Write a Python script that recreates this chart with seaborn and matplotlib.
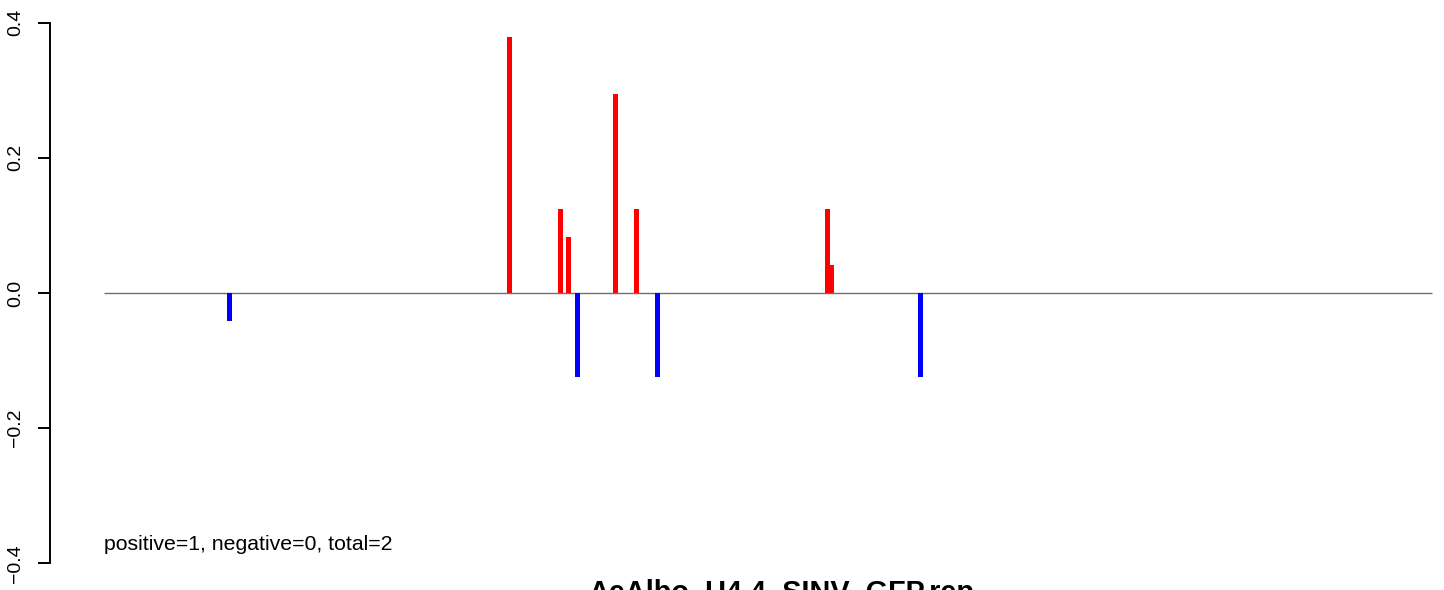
import matplotlib
matplotlib.use("Agg")
import matplotlib.pyplot as plt
import seaborn as sns
import pandas as pd

# ---- data ----
positions = [29.9, 96.4, 108.6, 110.5, 112.6, 121.7, 126.7, 131.7, 172.1, 173.1, 194.2]
values    = [-0.042, 0.378, 0.125, 0.083, -0.125, 0.294, 0.125, -0.125, 0.125, 0.042, -0.125]
strand    = ["neg", "pos", "pos", "pos", "neg", "pos", "pos", "neg", "pos", "pos", "neg"]
seq_start = 0
seq_end = 316
y_ticks = [-0.4, -0.2, 0.0, 0.2, 0.4]
summary_text = "positive=1, negative=0, total=2"
title_text = "AeAlbo_U4.4_SINV_GFP.rep"

sns.set_style("white")
plt.rcParams["font.family"] = ["Liberation Sans", "DejaVu Sans"]
plt.rcParams["text.color"] = "black"
plt.rcParams["ytick.color"] = "black"
plt.rcParams["ytick.labelcolor"] = "black"
plt.rcParams["axes.labelcolor"] = "black"

df = pd.DataFrame({"pos": positions, "val": values, "strand": strand})

W, H = 1444, 590
fig = plt.figure(figsize=(W / 100, H / 100), dpi=100)
ax = fig.add_axes([50 / W, 5 / H, 1394 / W, 584 / H])

# baseline
ax.hlines(0, seq_start, seq_end, color="#6e6e6e", linewidth=1.0, zorder=1)

sns.barplot(data=df, x="pos", y="val", hue="strand", native_scale=True,
            palette={"pos": "#FF0000", "neg": "#0000FF"}, dodge=False,
            saturation=1, width=1.19, linewidth=0, errorbar=None,
            legend=False, orient="x", ax=ax, zorder=2)

unit = 1328.3 / (seq_end - seq_start)
x0 = seq_start - 54 / unit
ax.set_xlim(x0, x0 + 1394 / unit)
ax.set_ylim(-0.432, 0.432)

ax.xaxis.set_visible(False)
for s in ["top", "right", "bottom"]:
    ax.spines[s].set_visible(False)
ax.spines["left"].set_bounds(y_ticks[0], y_ticks[-1])
ax.spines["left"].set_linewidth(1.4)
ax.spines["left"].set_color("black")
ax.set_yticks(y_ticks)
ax.set_yticklabels([f"{t:.1f}".replace("-", "\u2212") for t in y_ticks],
                   rotation=90, va="center", color="black")
ax.tick_params(axis="y", direction="out", length=8.6, width=1.4,
               color="black", labelsize=14, pad=10, left=True)
ax.set_ylabel("")
ax.set_facecolor("white")

ax.text(seq_start, -0.38, summary_text, ha="left", va="baseline",
        fontsize=15.3, color="black")
fig.text(781 / W, -11 / H, title_text, ha="center", va="baseline",
         fontsize=20.8, fontweight="bold", color="black")

fig.savefig("out.png", dpi=100, facecolor="white")
